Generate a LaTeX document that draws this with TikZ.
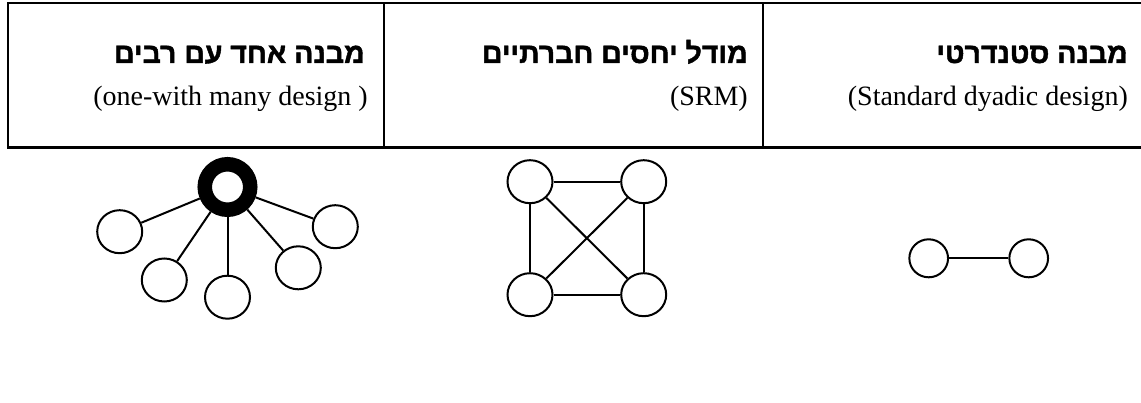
\documentclass[tikz,border=0pt]{standalone}
\usepackage{fontspec}
\setmainfont{Liberation Serif}
\newfontfamily\hebfont[Script=Hebrew,FakeBold=1.5]{Liberation Sans Bold}
\TeXXeTstate=1
\usetikzlibrary{shapes.geometric}
\begin{document}
\begin{tikzpicture}[x=1pt,y=-1pt,
 rule/.style={line width=2.2pt},
 heb/.style={anchor=base east, inner sep=0pt, font=\hebfont\fontsize{28.5}{32}\selectfont},
 eng/.style={anchor=base east, inner sep=0pt, font=\fontsize{28}{32}\selectfont},
 person/.style={ellipse, draw, line width=2pt, minimum width=45pt, minimum height=43pt, inner sep=0pt},
 smallperson/.style={ellipse, draw, line width=2pt, minimum width=38.7pt, minimum height=38pt, inner sep=0pt},
 hubnode/.style={circle, draw, line width=14.5pt, minimum size=45.5pt, inner sep=0pt},
 link/.style={line width=2pt}]
\useasboundingbox (0,0) rectangle (1141,403);
% table
\draw[rule] (1141,3.3) -- (7.7,3.3) -- (7.7,147.5) -- (1141,147.5);
\draw[rule] (384.3,3.3) -- (384.3,147.5);
\draw[rule] (763,3.3) -- (763,147.5);
% headings
\node[heb] (h1) at (365,63) {\beginR מבנה אחד עם רבים\endR};
\node[eng] (e1) at (368,106) {(one-with many design )};
\node[heb] (h2) at (748,63) {\beginR מודל יחסים חברתיים\endR};
\node[eng] (e2) at (748,106) {(SRM)};
\node[heb] (h3) at (1128,63) {\beginR מבנה סטנדרטי\endR};
\node[eng] (e3) at (1128,106) {(Standard dyadic design)};
% one-with-many
\node[hubnode] (hub) at (227.5,187) {};
\node[person] (a1) at (119.7,231.7) {};
\node[person] (a2) at (164.3,280) {};
\node[person] (a3) at (227.5,297.2) {};
\node[person] (a4) at (298.3,267.8) {};
\node[person] (a5) at (335.3,226.7) {};
\foreach \n in {a1,a2,a3,a4,a5} \draw[link] (hub) -- (\n);
% SRM
\node[person] (s1) at (530,181.7) {};
\node[person] (s2) at (643.7,181.7) {};
\node[person] (s3) at (530,294.7) {};
\node[person] (s4) at (643.7,294.7) {};
\draw[link] (s1) -- (s2);
\draw[link] (s1) -- (s3);
\draw[link] (s2) -- (s4);
\draw[link] (s3) -- (s4);
\draw[link] (s1) -- (s4);
\draw[link] (s2) -- (s3);
% dyadic
\node[smallperson] (d1) at (928.7,258.3) {};
\node[smallperson] (d2) at (1028.7,258.3) {};
\draw[link] (d1) -- (d2);
\end{tikzpicture}
\end{document}
